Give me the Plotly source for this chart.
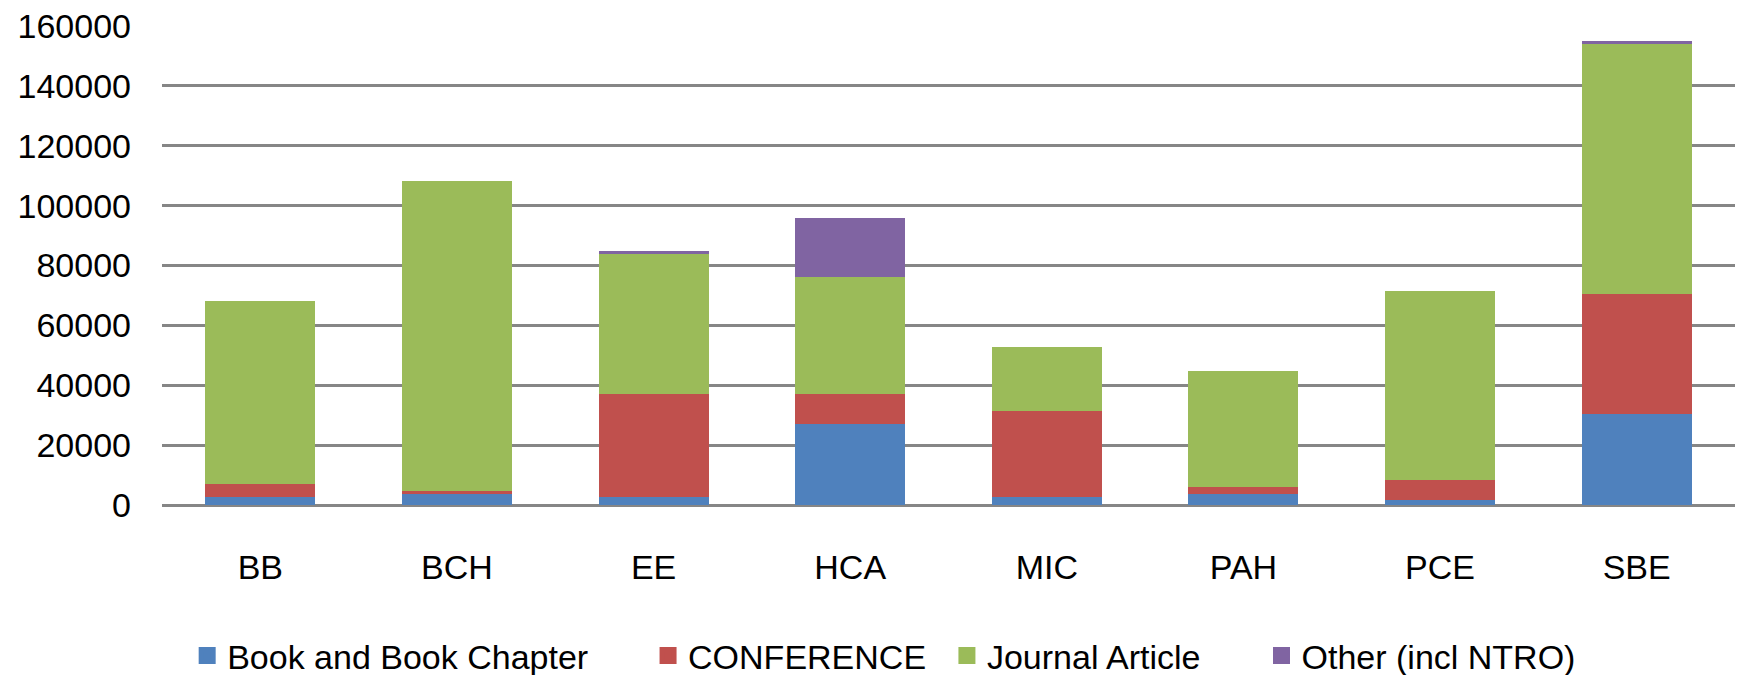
import plotly.graph_objects as go

categories = ["BB", "BCH", "EE", "HCA", "MIC", "PAH", "PCE", "SBE"]
book = [2800, 3700, 2700, 27100, 2700, 3800, 1600, 30500]
conference = [4300, 1000, 34400, 10000, 28700, 2300, 6600, 40000]
journal = [61000, 103600, 46800, 39100, 21400, 38700, 63300, 83500]
other = [0, 0, 1000, 19700, 0, 0, 0, 1000]

series_names = ["Book and Book Chapter", "CONFERENCE", "Journal Article", "Other (incl NTRO)"]
series_values = [book, conference, journal, other]
series_colors = ["#4F81BD", "#C0504D", "#9BBB59", "#8064A2"]
legend_ids = ["legend", "legend2", "legend3", "legend4"]
legend_x = [0.016, 0.309, 0.499, 0.699]

fig = go.Figure()
for name, vals, color, lg in zip(series_names, series_values, series_colors, legend_ids):
    fig.add_trace(go.Bar(x=categories, y=vals, name=name, showlegend=False,
                         marker=dict(color=color, line=dict(width=0))))
    # legend-only entry with a larger square symbol
    fig.add_trace(go.Bar(x=[categories[0]], y=[None], name=name, legend=lg,
                         showlegend=True, hoverinfo="skip",
                         marker=dict(color=color, line=dict(color=color, width=5))))

font_family = "Liberation Sans, Arial, sans-serif"
layout_legends = {}
for lg, lx in zip(legend_ids, legend_x):
    layout_legends[lg] = dict(orientation="h", x=lx, xanchor="left", y=-0.315,
                              yanchor="middle", font=dict(size=34),
                              bgcolor="rgba(0,0,0,0)", itemwidth=30)

fig.update_layout(
    barmode="stack",
    bargap=0.44,
    width=1738, height=675,
    margin=dict(l=162, r=3, t=26, b=170, autoexpand=False),
    paper_bgcolor="white", plot_bgcolor="white",
    font=dict(family=font_family, size=34, color="#000000"),
    showlegend=True,
    xaxis=dict(showgrid=False, showline=False, ticks="outside", ticklen=32,
               tickcolor="rgba(0,0,0,0)", tickfont=dict(size=34), automargin=False),
    yaxis=dict(range=[0, 160000], dtick=20000, tickformat="d",
               showgrid=True, gridcolor="#868686", gridwidth=3,
               zeroline=True, zerolinecolor="#868686", zerolinewidth=3,
               showline=False, ticklabelstandoff=30, tickfont=dict(size=34),
               automargin=False),
    **layout_legends,
)

fig.write_html("out.html", config={"displayModeBar": False},
               post_script="document.body.style.margin='0px';")
